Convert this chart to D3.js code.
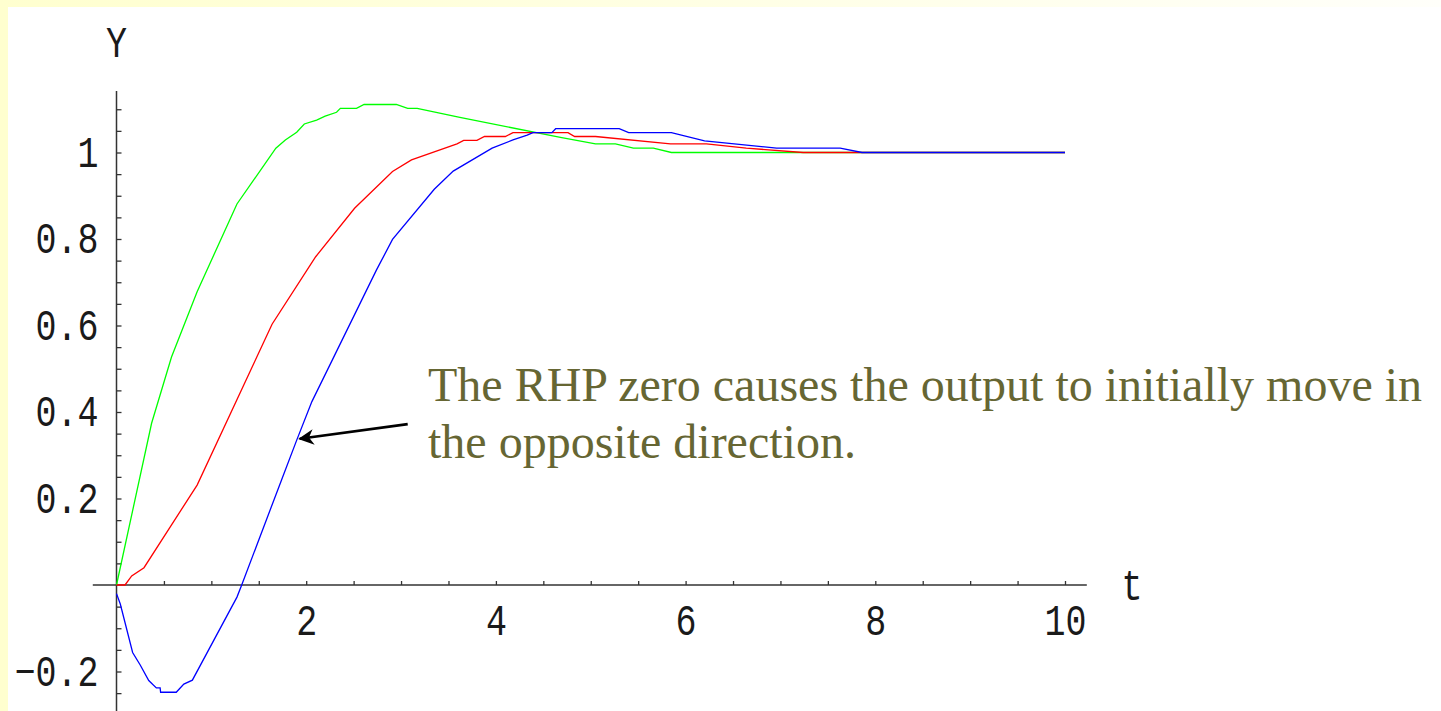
<!DOCTYPE html>
<html lang="en">
<head>
<meta charset="utf-8">
<title>Step response with RHP zero</title>
<script src="https://cdn.jsdelivr.net/npm/d3@7/dist/d3.min.js"></script>
<style>
body{margin:0;background:#fff;}
svg{display:block;}
.lbl{font-family:"Liberation Mono","Courier New",monospace;font-size:35px;fill:#1a1a1a;
  transform-box:fill-box;transform-origin:center;transform:scaleY(1.25);}
.note{font-family:"Liberation Serif","Times New Roman",serif;font-size:48px;fill:#666633;}
</style>
</head>
<body>
<div id="chart"></div>
<script>
var width = 1441,
    height = 711;

// series: t values and y values
var greenT = [0, 0.37, 0.58, 0.85, 1.27, 1.68, 1.78, 1.90, 1.98, 2.11, 2.20, 2.32, 2.36, 2.53, 2.61, 2.95, 3.07, 3.17, 3.62, 4.68, 5.05, 5.26, 5.45, 5.66, 5.85, 10];
var greenY = [0, 0.374, 0.527, 0.678, 0.881, 1.010, 1.029, 1.047, 1.066, 1.075, 1.084, 1.093, 1.102, 1.102, 1.111, 1.111, 1.102, 1.102, 1.081, 1.035, 1.020, 1.020, 1.010, 1.010, 1.0, 1.0];

var redT = [0, 0.09, 0.16, 0.29, 0.85, 1.64, 2.10, 2.51, 2.91, 3.11, 3.59, 3.66, 3.80, 3.88, 4.10, 4.18, 4.76, 4.83, 5.05, 5.84, 6.22, 6.64, 7.24, 10];
var redY = [0, 0, 0.021, 0.040, 0.231, 0.603, 0.759, 0.871, 0.956, 0.983, 1.020, 1.028, 1.028, 1.037, 1.037, 1.046, 1.046, 1.037, 1.037, 1.020, 1.020, 1.010, 1.0, 1.0];

var blueT = [0, 0.04, 0.17, 0.25, 0.34, 0.42, 0.46, 0.465, 0.63, 0.71, 0.80, 1.27, 1.32, 1.74, 1.90, 2.06, 2.74, 2.91, 3.35, 3.55, 3.96, 4.18, 4.33, 4.39, 4.59, 4.63, 5.30, 5.40, 5.85, 6.20, 6.96, 7.63, 7.86, 10];
var blueY = [-0.02, -0.044, -0.156, -0.185, -0.221, -0.238, -0.238, -0.248, -0.248, -0.229, -0.220, -0.028, 0, 0.243, 0.335, 0.424, 0.728, 0.799, 0.915, 0.957, 1.010, 1.029, 1.040, 1.046, 1.046, 1.055, 1.055, 1.046, 1.046, 1.027, 1.010, 1.010, 1.0, 1.0];

var xLabelled = [2, 4, 6, 8, 10];
var yLabelled = [-0.2, 0.2, 0.4, 0.6, 0.8, 1];

var noteLines = ["The RHP zero causes the output to initially move in", "the opposite direction."];
var arrowFrom = [3.07, 0.372],
    arrowTo = [1.90, 0.338];

var svg = d3.select("#chart").append("svg")
    .attr("width", width)
    .attr("height", height);

// pale yellow frame fading to white on the right
var defs = svg.append("defs");
var grad = defs.append("linearGradient")
    .attr("id", "frame").attr("x1", 0).attr("x2", 1).attr("y1", 0).attr("y2", 0);
grad.append("stop").attr("offset", 0).attr("stop-color", "#ffffcf");
grad.append("stop").attr("offset", 1).attr("stop-color", "#fffffa");
defs.append("marker")
    .attr("id", "head").attr("viewBox", "0 0 10 10")
    .attr("refX", 9).attr("refY", 5)
    .attr("markerWidth", 7).attr("markerHeight", 6)
    .attr("markerUnits", "strokeWidth")
    .attr("orient", "auto")
  .append("path").attr("d", "M0,0L10,5L0,10L3,5Z").attr("fill", "#000");

svg.append("rect").attr("width", width).attr("height", height).attr("fill", "url(#frame)");
svg.append("rect").attr("x", 8).attr("y", 7).attr("width", width - 8).attr("height", height - 7).attr("fill", "#fff");

var x = d3.scaleLinear().domain([0, 10]).range([116.5, 1065]);
var y = d3.scaleLinear().domain([0, 1]).range([585, 152.5]);

var axisColor = "#333";

// x axis
var xTicks = d3.range(1, 21).map(function(i){ return i * 0.5; });
var gx = svg.append("g")
    .attr("transform", "translate(0," + y(0) + ")")
    .call(d3.axisBottom(x).tickValues(xTicks).tickSize(-4).tickSizeOuter(0)
      .tickFormat(function(d){ return xLabelled.indexOf(d) >= 0 ? d3.format("d")(d) : ""; }));
gx.select(".domain").remove();
gx.selectAll(".tick line").attr("stroke", axisColor).attr("stroke-width", 1.3);
gx.selectAll(".tick text").attr("class", "lbl").attr("y", 35).attr("dy", "0.35em").attr("fill", null);
gx.append("line")
    .attr("x1", x(-0.25)).attr("x2", x(10.23))
    .attr("stroke", axisColor).attr("stroke-width", 1.5);

// y axis
var yTicks = d3.range(-5, 23).filter(function(i){ return i !== 0; }).map(function(i){ return i * 0.05; });
var gy = svg.append("g")
    .attr("transform", "translate(" + x(0) + ",0)")
    .call(d3.axisLeft(y).tickValues(yTicks).tickSize(-5).tickSizeOuter(0)
      .tickFormat(function(d){
        var hit = yLabelled.filter(function(v){ return Math.abs(v - d) < 1e-6; });
        if (!hit.length) return "";
        return d3.format("~g")(hit[0]);
      }));
gy.select(".domain").remove();
gy.selectAll(".tick line").attr("stroke", axisColor).attr("stroke-width", 1.3);
gy.selectAll(".tick text").attr("class", "lbl").attr("x", -18).attr("fill", null);
gy.append("line")
    .attr("y1", y(-0.3)).attr("y2", y(1.142))
    .attr("stroke", axisColor).attr("stroke-width", 1.5);

svg.append("text").attr("class", "lbl")
    .attr("x", x(0)).attr("y", 42).attr("dy", "0.35em")
    .attr("text-anchor", "middle").text("Y");
svg.append("text").attr("class", "lbl")
    .attr("x", 1132).attr("y", y(0)).attr("dy", "0.35em")
    .attr("text-anchor", "middle").text("t");

// curves
var line = d3.line()
    .x(function(d){ return x(d[0]); })
    .y(function(d){ return y(d[1]); });

function pairs(ts, ys){
  return ts.map(function(t, i){ return [t, ys[i]]; });
}

var series = [
  {name: "green", color: "#00ff00", pts: pairs(greenT, greenY)},
  {name: "red", color: "#ff0000", pts: pairs(redT, redY)},
  {name: "blue", color: "#0000ff", pts: pairs(blueT, blueY)}
];

svg.selectAll("path.curve").data(series)
  .enter()
  .append("path")
    .attr("class", "curve")
    .attr("fill", "none")
    .attr("stroke", function(d){ return d.color; })
    .attr("stroke-width", 1.3)
    .attr("d", function(d){ return line(d.pts); });

// annotation
svg.append("line")
    .attr("x1", x(arrowFrom[0])).attr("y1", y(arrowFrom[1]))
    .attr("x2", x(arrowTo[0]) + 3).attr("y2", y(arrowTo[1]))
    .attr("stroke", "#000").attr("stroke-width", 2.6)
    .attr("marker-end", "url(#head)");

svg.append("text").attr("class", "note")
    .attr("x", 428).attr("y", 401)
  .selectAll("tspan").data(noteLines)
  .enter()
  .append("tspan")
    .attr("x", 428)
    .attr("dy", function(d, i){ return i ? 57 : 0; })
    .text(function(d){ return d; });
</script>
</body>
</html>
